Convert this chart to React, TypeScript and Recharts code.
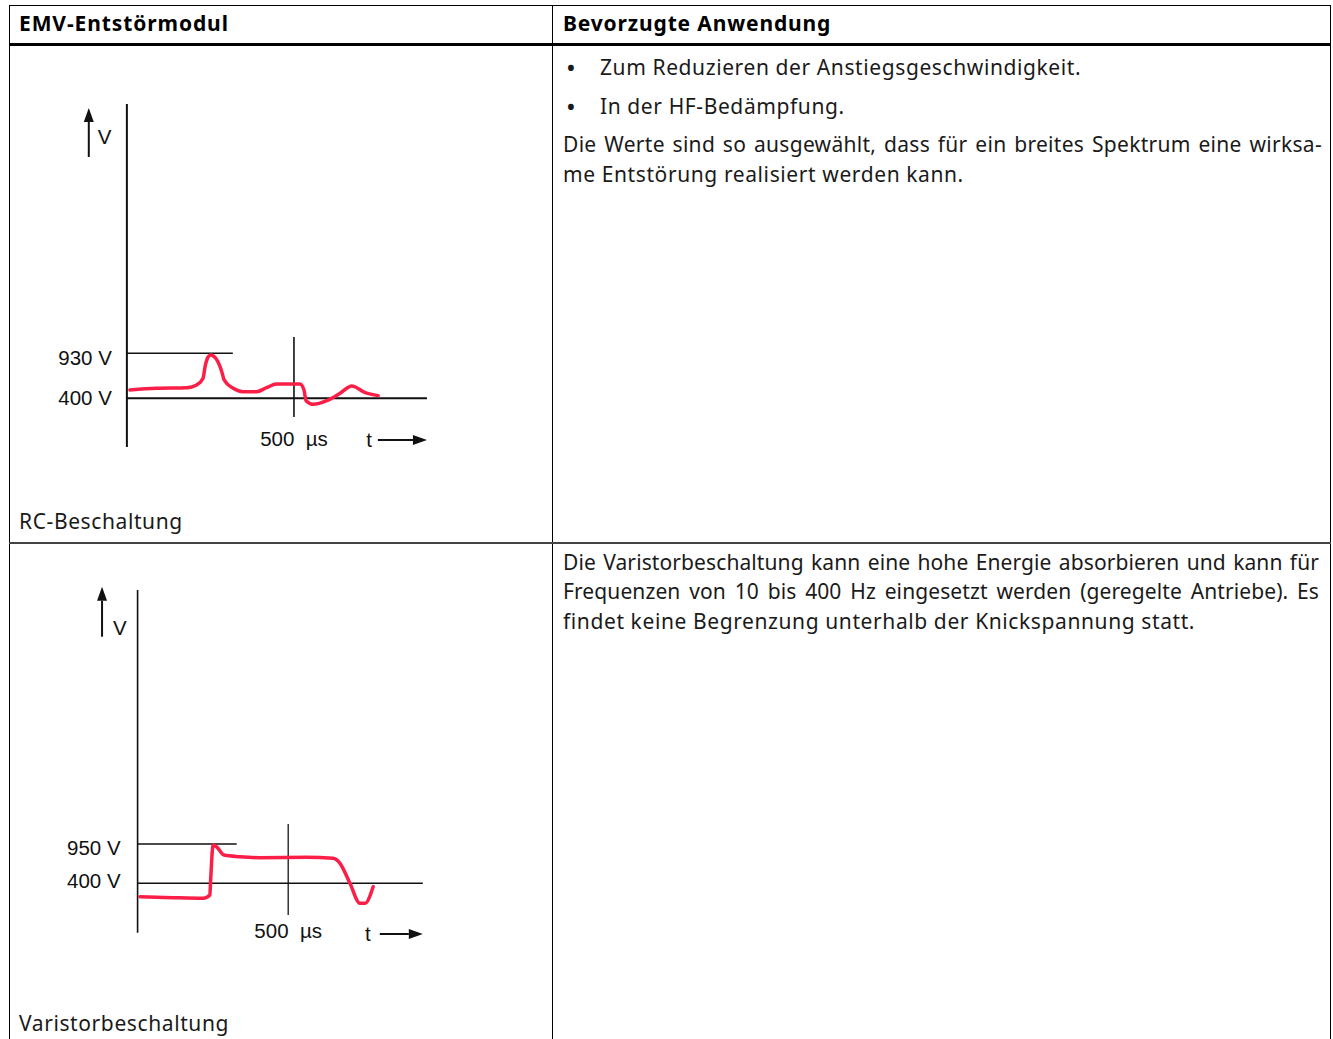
import { LineChart, Line, XAxis, YAxis, ReferenceLine } from "recharts";

// RC-Beschaltung: voltage trace (µs, V)
const rcTime = [9, 89, 179, 209, 228, 234, 242, 251, 266, 284, 291, 318, 348, 388, 418, 448, 518, 530, 536, 558, 598, 638, 673, 713, 752];
const rcVolt = [498, 518, 525, 557, 636, 772, 878, 910, 871, 713, 616, 518, 478, 478, 525, 568, 568, 498, 372, 329, 372, 459, 545, 466, 431];

// Varistorbeschaltung: voltage trace (µs, V)
const varTime = [8, 118, 218, 240, 242, 251, 262, 287, 340, 406, 561, 649, 672, 705, 738, 755, 782];
const varVolt = [212, 198, 190, 236, 400, 936, 912, 796, 772, 758, 764, 750, 680, 400, 120, 120, 352];

const rcLevels = [400, 930];
const varLevels = [400, 950];
const markTime = 500;

const RED = "#fb1f48";
const INK = "#111";
const labelFont = { fontFamily: "Liberation Sans, Arial, sans-serif", fontSize: 20.5, fill: INK };

const toRows = (t: number[], v: number[]) => t.map((x, i) => ({ t: x, v: v[i] }));

const ArrowLine = (p: any) => {
  const { x1, y1, x2, y2 } = p;
  const a = Math.atan2(y2 - y1, x2 - x1);
  const len = 14;
  const half = 5;
  const bx = x2 - len * Math.cos(a);
  const by = y2 - len * Math.sin(a);
  const pts = [
    [x2, y2],
    [bx - half * Math.sin(a), by + half * Math.cos(a)],
    [bx + half * Math.sin(a), by - half * Math.cos(a)],
  ]
    .map((q) => q.join(","))
    .join(" ");
  return (
    <g>
      <line x1={x1} y1={y1} x2={bx} y2={by} stroke={INK} strokeWidth={2} />
      <polygon points={pts} fill={INK} />
    </g>
  );
};

interface Frame {
  xDomain: [number, number];
  yDomain: [number, number];
  axisBottom: number;
  axisTop: number;
  baseEnd: number;
  peakEnd: number;
  markLow: number;
  markHigh: number;
  vArrowT: number;
  vArrowFrom: number;
  vArrowTo: number;
  tArrowV: number;
  tArrowFrom: number;
  levelOffset: number;
  peakDy: number;
  baseDy: number;
  markOffset: number;
  vOffset: number;
  vDy: number;
  tOffset: number;
  lineW: number;
}

function Scope({ data, levels, f }: { data: { t: number; v: number }[]; levels: number[]; f: Frame }) {
  const [low, high] = levels;
  return (
    <LineChart width={400} height={380} data={data} margin={{ top: 0, right: 0, bottom: 0, left: 0 }}>
      <XAxis type="number" dataKey="t" domain={f.xDomain} hide allowDataOverflow />
      <YAxis type="number" domain={f.yDomain} hide allowDataOverflow />
      <ReferenceLine
        segment={[{ x: 0, y: f.axisBottom }, { x: 0, y: f.axisTop }]}
        stroke={INK}
        strokeWidth={f.lineW}
      />
      <ReferenceLine
        segment={[{ x: 0, y: low }, { x: f.baseEnd, y: low }]}
        stroke={INK}
        strokeWidth={f.lineW}
        label={{ value: `${low} V`, position: "left", offset: f.levelOffset, dy: f.baseDy, ...labelFont }}
      />
      <ReferenceLine
        segment={[{ x: 0, y: high }, { x: f.peakEnd, y: high }]}
        stroke={INK}
        strokeWidth={f.lineW * 0.8}
        label={{ value: `${high} V`, position: "left", offset: f.levelOffset, dy: f.peakDy, ...labelFont }}
      />
      <ReferenceLine
        segment={[{ x: markTime, y: f.markLow }, { x: markTime, y: f.markHigh }]}
        stroke={INK}
        strokeWidth={f.lineW * 0.8}
        label={{ value: `${markTime}\u00a0\u00a0µs`, position: "bottom", offset: f.markOffset, ...labelFont }}
      />
      <ReferenceLine
        segment={[{ x: f.vArrowT, y: f.vArrowFrom }, { x: f.vArrowT, y: f.vArrowTo }]}
        shape={ArrowLine}
        label={{ value: "V", position: "right", offset: f.vOffset, dy: f.vDy, ...labelFont }}
      />
      <ReferenceLine
        segment={[{ x: f.tArrowFrom, y: f.tArrowV }, { x: f.baseEnd, y: f.tArrowV }]}
        shape={ArrowLine}
        label={{ value: "t", position: "left", offset: f.tOffset, ...labelFont }}
      />
      <Line
        type="monotone"
        dataKey="v"
        stroke={RED}
        strokeWidth={3.5}
        strokeLinejoin="round"
        strokeLinecap="round"
        dot={false}
        isAnimationActive={false}
      />
    </LineChart>
  );
}

const rcFrame: Frame = {
  xDomain: [-260, 937],
  yDomain: [-445, 4032],
  axisBottom: -174,
  axisTop: 3867,
  baseEnd: 898,
  peakEnd: 317,
  markLow: 179,
  markHigh: 1122,
  vArrowT: -114,
  vArrowFrom: 3243,
  vArrowTo: 3820,
  tArrowV: -92,
  tArrowFrom: 751,
  levelOffset: 15,
  peakDy: 4,
  baseDy: -1,
  markOffset: 14,
  vOffset: 9,
  vDy: 4,
  tOffset: 6,
  lineW: 2,
};

const varFrame: Frame = {
  xDomain: [-324, 1004],
  yDomain: [-534, 4786],
  axisBottom: -292,
  axisTop: 4506,
  baseEnd: 947,
  peakEnd: 329,
  markLow: -44,
  markHigh: 1230,
  vArrowT: -118,
  vArrowFrom: 3852,
  vArrowTo: 4552,
  tArrowV: -310,
  tArrowFrom: 804,
  levelOffset: 17,
  peakDy: 4,
  baseDy: -3,
  markOffset: 8,
  vOffset: 11,
  vDy: 16,
  tOffset: 9,
  lineW: 1.6,
};

const txt = (left: number, center: number, extra: any = {}) => ({
  position: "absolute" as const,
  left,
  top: center - 16,
  lineHeight: "30px",
  whiteSpace: "nowrap" as const,
  ...extra,
});

const just = (width: number, ls = 0.6) => ({
  width,
  textAlign: "justify" as const,
  textAlignLast: "justify" as const,
  letterSpacing: ls,
});

const rule = (left: number, top: number, width: number, height: number, bg = "#000") => ({
  position: "absolute" as const,
  left,
  top,
  width,
  height,
  background: bg,
});

export default function App() {
  return (
    <div
      style={{
        position: "absolute",
        left: 0,
        top: 0,
        width: 1333,
        height: 1039,
        overflow: "hidden",
        background: "#fff",
        fontFamily: "'Noto Sans', 'Open Sans', sans-serif",
        fontSize: 21,
        letterSpacing: 0.6,
        color: "#1a1a1a",
      }}
    >
      {/* table rules */}
      <div style={rule(9, 5, 1322, 1)} />
      <div style={rule(9, 5, 1, 1034)} />
      <div style={rule(1330, 5, 1, 1034)} />
      <div style={rule(552, 5, 1, 1034)} />
      <div style={rule(9, 43, 1322, 3)} />
      <div style={rule(9, 542, 1322, 2, "#444")} />

      {/* header */}
      <div style={txt(19, 24, { fontWeight: 700, color: "#000", letterSpacing: 0.9 })}>EMV-Entstörmodul</div>
      <div style={txt(563, 24, { fontWeight: 700, color: "#000", letterSpacing: 0.85 })}>Bevorzugte Anwendung</div>

      {/* row 1 */}
      <div style={txt(566, 68, { fontSize: 26 })}>•</div>
      <div style={txt(600, 68)}>Zum Reduzieren der Anstiegsgeschwindigkeit.</div>
      <div style={txt(566, 107, { fontSize: 26 })}>•</div>
      <div style={txt(600, 107)}>In der HF-Bedämpfung.</div>
      <div style={txt(563, 145, just(759, 0.3))}>
        Die Werte sind so ausgewählt, dass für ein breites Spektrum eine wirksa-
      </div>
      <div style={txt(563, 175)}>me Entstörung realisiert werden kann.</div>
      <div style={txt(19, 522)}>RC-Beschaltung</div>

      {/* row 2 */}
      <div style={txt(563, 563, just(756, 0.1))}>
        Die Varistorbeschaltung kann eine hohe Energie absorbieren und kann für
      </div>
      <div style={txt(563, 592, just(756, 0.1))}>
        Frequenzen von 10 bis 400 Hz eingesetzt werden (geregelte Antriebe). Es
      </div>
      <div style={txt(563, 622)}>findet keine Begrenzung unterhalb der Knickspannung statt.</div>
      <div style={txt(19, 1024)}>Varistorbeschaltung</div>

      {/* charts */}
      <div style={{ position: "absolute", left: 40, top: 90, letterSpacing: 0 }}>
        <Scope data={toRows(rcTime, rcVolt)} levels={rcLevels} f={rcFrame} />
      </div>
      <div style={{ position: "absolute", left: 40, top: 570, letterSpacing: 0 }}>
        <Scope data={toRows(varTime, varVolt)} levels={varLevels} f={varFrame} />
      </div>
    </div>
  );
}
